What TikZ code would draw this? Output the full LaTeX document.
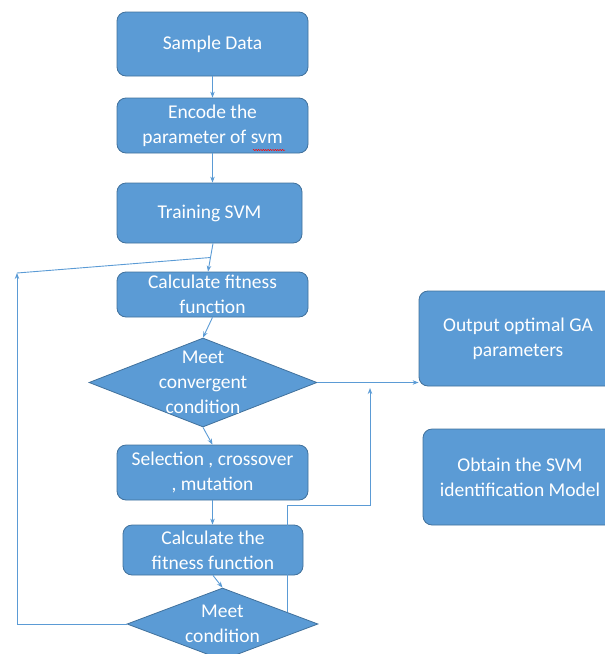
\documentclass[tikz,border=0pt]{standalone}
\usepackage{fontspec}
\setmainfont{Carlito}
\usetikzlibrary{shapes.geometric,calc,arrows.meta,decorations.pathmorphing}
\definecolor{boxfill}{HTML}{5B9BD5}
\definecolor{boxedge}{HTML}{41719C}
\definecolor{wirecol}{HTML}{5B9BD5}
\begin{document}
\begin{tikzpicture}[x=1pt,y=-1pt,
  labelfont/.style={font=\fontsize{19.5}{25}\selectfont},
  box/.style={draw=boxedge,line width=0.8pt,fill=boxfill,rounded corners=9pt,
    text=white,align=center,inner sep=0pt,labelfont},
  dec/.style={diamond,draw=boxedge,line width=0.8pt,fill=boxfill,inner sep=0pt},
  lbl/.style={text=white,align=center,inner sep=0pt,labelfont},
  wire/.style={draw=wirecol,line width=0.9pt},
  arr/.style={wire,-{Stealth[length=6pt,width=4.5pt]}},
  spell/.style={draw=red,line width=0.5pt,decorate,
    decoration={snake,amplitude=0.6pt,segment length=2.4pt}}]
\useasboundingbox (0,0) rectangle (605,654);
\clip (0,0) rectangle (605,654);

% process boxes and decisions
\node[box,minimum width=191pt,minimum height=64pt] (sample) at (212.5,44) {Sample Data};
\node[box,minimum width=191pt,minimum height=55pt] (encode) at (212.5,125.5) {Encode the\\parameter of svm};
\node[box,minimum width=185pt,minimum height=60pt] (train) at (209.5,213) {Training SVM};
\node[box,minimum width=191pt,minimum height=45pt] (calc1) at (212.5,294.5) {Calculate fitness\\function};
\node[dec,minimum width=228pt,minimum height=89pt] (conv) at (203,382.5) {};
\node[lbl] (convtext) at (conv) {Meet\\convergent\\condition};
\node[box,minimum width=191pt,minimum height=55pt] (select) at (212.5,472.5) {Selection , crossover\\, mutation};
\node[box,minimum width=180pt,minimum height=50pt] (calc2) at (213,550) {Calculate the\\fitness function};
\node[dec,minimum width=191pt,minimum height=72pt] (cond) at (222.5,624) {};
\node[lbl] (condtext) at (cond) {Meet\\condition};
\node[box,minimum width=198pt,minimum height=95pt] (output) at (518,338.5) {Output optimal GA\\parameters};
\node[box,minimum width=194pt,minimum height=96pt] (obtain) at (520,477) {Obtain the SVM\\identification Model};

% spell-check underline under "svm"
\draw[spell] (253,150) -- (285,150);

% main flow
\draw[arr] (sample) -- (encode);
\draw[arr] (encode.south) -- (encode.south |- train.north);
\coordinate (trainout) at ([xshift=3.5pt]train.south);
\coordinate (calcin) at ([xshift=-4.5pt]calc1.north);
\draw[arr] (trainout) -- (calcin);
\draw[arr] (calc1.south) -- (conv.north);
\draw[arr] (conv.south) -- (select.north);
\draw[arr] (select.south) -- (select.south |- calc2.north);
\draw[arr] (calc2.south) -- (cond.north);
\draw[arr] (conv.east) -- (conv.east -| output.west);

% loop back to the fitness calculation
\coordinate (join) at ($(trainout)!0.5!(calcin)$);
\coordinate (loopB) at (17,624);
\coordinate (loopT) at (17,273);
\draw[arr] (cond.west) -- (loopB) -- (loopT);
\draw[wire] (loopT) -- (join);

% exit from the second decision
\coordinate (c0) at ($(cond.north)!0.68!(cond.east)$);
\coordinate (r1) at (288,505);
\coordinate (r2) at (370,505);
\coordinate (r3) at (370,388);
\draw[arr] (c0) -- (c0 |- r1) -- (r2) -- (r3);
\end{tikzpicture}
\end{document}
